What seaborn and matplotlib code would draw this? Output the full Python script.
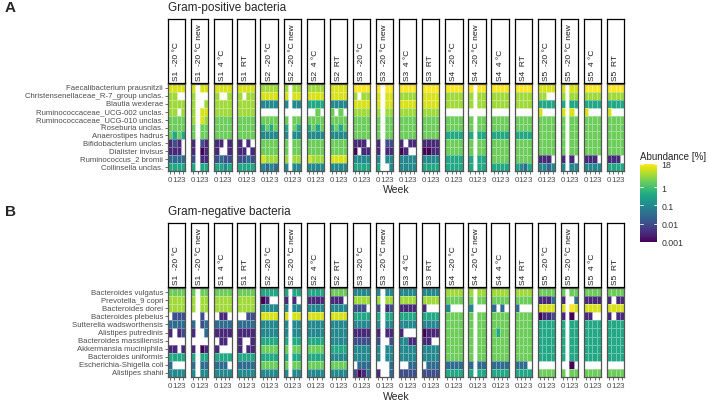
import numpy as np
import pandas as pd
import matplotlib
matplotlib.use("Agg")
import matplotlib.pyplot as plt
import seaborn as sns
from matplotlib.colors import LogNorm
from matplotlib.cm import ScalarMappable

sns.set_theme(style="white")
plt.rcParams['font.family'] = ['Liberation Sans', 'DejaVu Sans']

# ---------------- data ----------------
facets = ["S1  -20 °C", "S1  -20 °C new", "S1  4 °C", "S1  RT",
          "S2  -20 °C", "S2  -20 °C new", "S2  4 °C", "S2  RT",
          "S3  -20 °C", "S3  -20 °C new", "S3  4 °C", "S3  RT",
          "S4  -20 °C", "S4  -20 °C new", "S4  4 °C", "S4  RT",
          "S5  -20 °C", "S5  -20 °C new", "S5  4 °C", "S5  RT"]
weeks = [0, 1, 2, 3]

# abundance level codes ('.' = not detected)
level_values = {'0': 0.001, '1': 0.003, '2': 0.01, '3': 0.03, '4': 0.1,
                '5': 0.35, '6': 2.0, '7': 4.5, '8': 10.0, '9': 18.0}

pos_taxa = ["Faecalibacterium prausnitzii", "Christensenellaceae_R-7_group unclas.",
            "Blautia wexlerae", "Ruminococcaceae_UCG-002 unclas.",
            "Ruminococcaceae_UCG-010 unclas.", "Roseburia unclas.",
            "Anaerostipes hadrus", "Bifidobacterium unclas.", "Dialister invisus",
            "Ruminococcus_2 bromii", "Collinsella unclas."]
pos_codes = [
    "8888 8.88 8888 8888 7777 7.77 7777 8888 9999 9.99 9999 9999 9999 9.99 9999 9999 8888 8.88 9999 9999",
    "77.. 7... 7..7 7.77 8888 8.88 8888 8888 7.77 8.88 7777 8888 7777 7.77 7777 7777 77.. 7.77 7777 7777",
    "7777 7..7 7777 7777 4444 4.44 5555 4444 8888 8.88 8888 8888 7777 7.77 7777 7777 5555 5.55 5555 5555",
    "77.7 7.88 7777 7777 .... .... ..6. 6.6. 7777 7.77 7777 7777 .... .... .... .... 8... 8.8. 8... 8...",
    "6666 7.87 6666 6666 6666 6.66 6666 6666 6666 6.66 6666 6666 6666 6.66 6666 6666 6666 6.66 6666 6666",
    "6666 6.66 6666 6666 5656 5.65 5656 5656 6666 6.66 6666 6666 6666 6.66 6666 6666 6666 6.66 6666 6666",
    "6565 6.66 6666 6666 4444 4.44 4444 4444 6666 6.66 6666 6666 5555 5.55 5555 5555 6666 6.66 6666 6666",
    "121. 1.21 11.1 1.1. 6666 6.66 6666 6666 111. 1.22 1.11 1111 6666 6.66 6666 6666 6666 6.66 6666 6666",
    "111. 1.01 1..1 11.1 6666 6.66 6666 6666 0.11 1.11 01.. 0011 6666 6.66 6666 6666 6666 6.66 6666 6666",
    "3333 2.11 2322 2232 8777 7.77 8777 8888 4444 4.44 4444 4444 5555 5.55 6666 6666 111. 1.1. 111. 111.",
    "5555 5.55 5545 5555 4343 4.44 4444 4444 5555 5..4 4444 5555 5555 5.55 5555 5435 4434 4.44 4444 5555",
]

neg_taxa = ["Bacteroides vulgatus", "Prevotella_9 copri", "Bacteroides dorei",
            "Bacteroides plebeius", "Sutterella wadsworthensis", "Alistipes putredinis",
            "Bacteroides massiliensis", "Akkermansia muciniphila", "Bacteroides uniformis",
            "Escherichia-Shigella coli", "Alistipes shahii"]
neg_codes = [
    "6666 6.66 6666 6666 5555 5.55 5555 6666 4444 4.44 4444 4444 7777 7.77 7777 7777 6666 6.66 6666 6666",
    "7777 7.77 7777 7777 01.. 1.1. 1111 111. 7777 7.77 7777 7777 6666 6.66 6666 6666 1113 1..3 1111 1.11",
    "7777 7.77 7777 7777 4444 4.44 4444 4444 222. 2.12 1111 1... 4... 4... 3.3. 3... 8888 8.98 8888 8888",
    ".222 ..2. .11. ..22 8888 8.88 8888 8888 5555 5.55 5555 5555 6666 6.66 6666 6666 0112 1.0. 11.. 1.11",
    "3333 3.23 3333 3333 4444 4.44 4444 4444 4444 4.44 4444 4444 6666 6.66 6666 6666 5555 5.55 5555 5555",
    "1.12 1..3 1111 1111 4444 4.44 4444 4444 1111 1.11 1... 0111 6666 6.66 6566 6666 5555 5.55 5555 5555",
    ".... .... .11. 1..1 5555 5.55 5555 4444 2222 2..2 4411 11.. 6666 6.66 6666 6666 5555 5.55 5555 5555",
    "11.1 1.01 1... 1.11 6666 6.66 6666 5555 4444 4.44 4444 4444 6666 6.66 6666 6666 5555 5.55 5555 5555",
    "5555 5.55 5555 5555 5555 5.55 5555 4444 4444 4.44 4444 4444 6666 6.66 6666 6666 5555 5.55 5555 5555",
    "3... 3.33 333. 3333 6666 6.66 6666 6666 .333 ...3 ..33 .333 3333 3.33 3333 333. .... ..0. .... ....",
    "4444 4.44 4444 4444 4444 4.44 4444 4444 2013 1..3 2222 2222 5555 5.55 5555 5555 6666 6.66 6666 6666",
]

cbar_ticks = [0.001, 0.01, 0.1, 1, 18]
cbar_labels = ["0.001", "0.01", "0.1", "1", "18"]

# ---------------- figure ----------------
W, H = 709, 402
fig = plt.figure(figsize=(W / 100, H / 100), dpi=100)
fig.patch.set_facecolor("white")
norm = LogNorm(vmin=0.001, vmax=18)
cmap = plt.get_cmap("viridis")


def px_axes(x0, y0, x1, y1):
    return fig.add_axes([x0 / W, 1 - y1 / H, (x1 - x0) / W, (y1 - y0) / H])


def facet_frame(taxa, codes, j):
    rows = []
    for t, s in zip(taxa, codes):
        grp = s.split()[j]
        rows.append([level_values.get(c, np.nan) for c in grp])
    return pd.DataFrame(rows, index=taxa, columns=weeks)


def draw_panel(taxa, codes, title, letter, y_title, y_strip0, y_strip1, y_hm0, y_hm1, y_week):
    fig.text(5 / W, 1 - y_title / H, letter, fontsize=11, fontweight="bold",
             ha="left", va="center")
    fig.text(168 / W, 1 - y_title / H, title, fontsize=8.5, ha="left", va="center")
    x_start, pitch, width = 168.0, 23.1, 17.3
    for j, fac in enumerate(facets):
        x0 = x_start + j * pitch
        x1 = x0 + width
        ax = px_axes(x0, y_hm0, x1, y_hm1)
        ax.set_facecolor("white")
        df = facet_frame(taxa, codes, j)
        sns.heatmap(df, ax=ax, cmap=cmap, norm=norm, cbar=False,
                    linewidths=0.4, linecolor=(1, 1, 1, 0.35),
                    xticklabels=weeks, yticklabels=(taxa if j == 0 else False))
        for s in ax.spines.values():
            s.set_visible(True)
            s.set_color("#555555")
            s.set_linewidth(0.9)
        ax.tick_params(axis="x", bottom=True, length=2.5, width=0.5, color="#333333",
                       labelsize=5.8, labelcolor="#4d4d4d", pad=1)
        ax.set_xticklabels([str(w) for w in weeks], rotation=0)
        if j == 0:
            ax.tick_params(axis="y", left=True, length=2.5, width=0.5, color="#333333",
                           labelsize=5.6, labelcolor="#4d4d4d", pad=1)
            ax.set_yticklabels(taxa, rotation=0)
        else:
            ax.tick_params(axis="y", left=False)
        ax.set_xlabel("")
        ax.set_ylabel("")
        # strip
        sax = px_axes(x0, y_strip0, x1, y_strip1)
        sax.set_xticks([])
        sax.set_yticks([])
        sax.set_facecolor("white")
        for s in sax.spines.values():
            s.set_visible(True)
            s.set_color("black")
            s.set_linewidth(0.9)
        sax.text(0.5, 0.04, fac, rotation=90, rotation_mode="anchor", ha="left",
                 va="center", fontsize=6.0, color="#1a1a1a", transform=sax.transAxes)
    fig.text((168 + 19 * pitch + width + 168) / 2 / W, 1 - y_week / H, "Week",
             fontsize=7.5, ha="center", va="center")


draw_panel(pos_taxa, pos_codes, "Gram-positive bacteria", "A", 8, 19.5, 84, 85, 172, 190)
draw_panel(neg_taxa, neg_codes, "Gram-negative bacteria", "B", 212, 223.5, 288, 289, 378, 397)

# legend
fig.text(640 / W, 1 - 157 / H, "Abundance [%]", fontsize=7.0, ha="left", va="center")
cax = px_axes(640, 165, 657, 243)
sm = ScalarMappable(norm=norm, cmap=cmap)
cb = fig.colorbar(sm, cax=cax, ticks=cbar_ticks)
cb.set_ticklabels(cbar_labels)
cb.outline.set_visible(False)
cax.tick_params(which="both", length=0, labelsize=6.3, labelcolor="#333333", pad=3)
cax.minorticks_off()
for t in cbar_ticks:
    cax.plot([0, 0.2], [t, t], color="white", lw=0.6, transform=cax.get_yaxis_transform())
    cax.plot([0.8, 1], [t, t], color="white", lw=0.6, transform=cax.get_yaxis_transform())

fig.savefig("out.png", dpi=100, facecolor="white")
